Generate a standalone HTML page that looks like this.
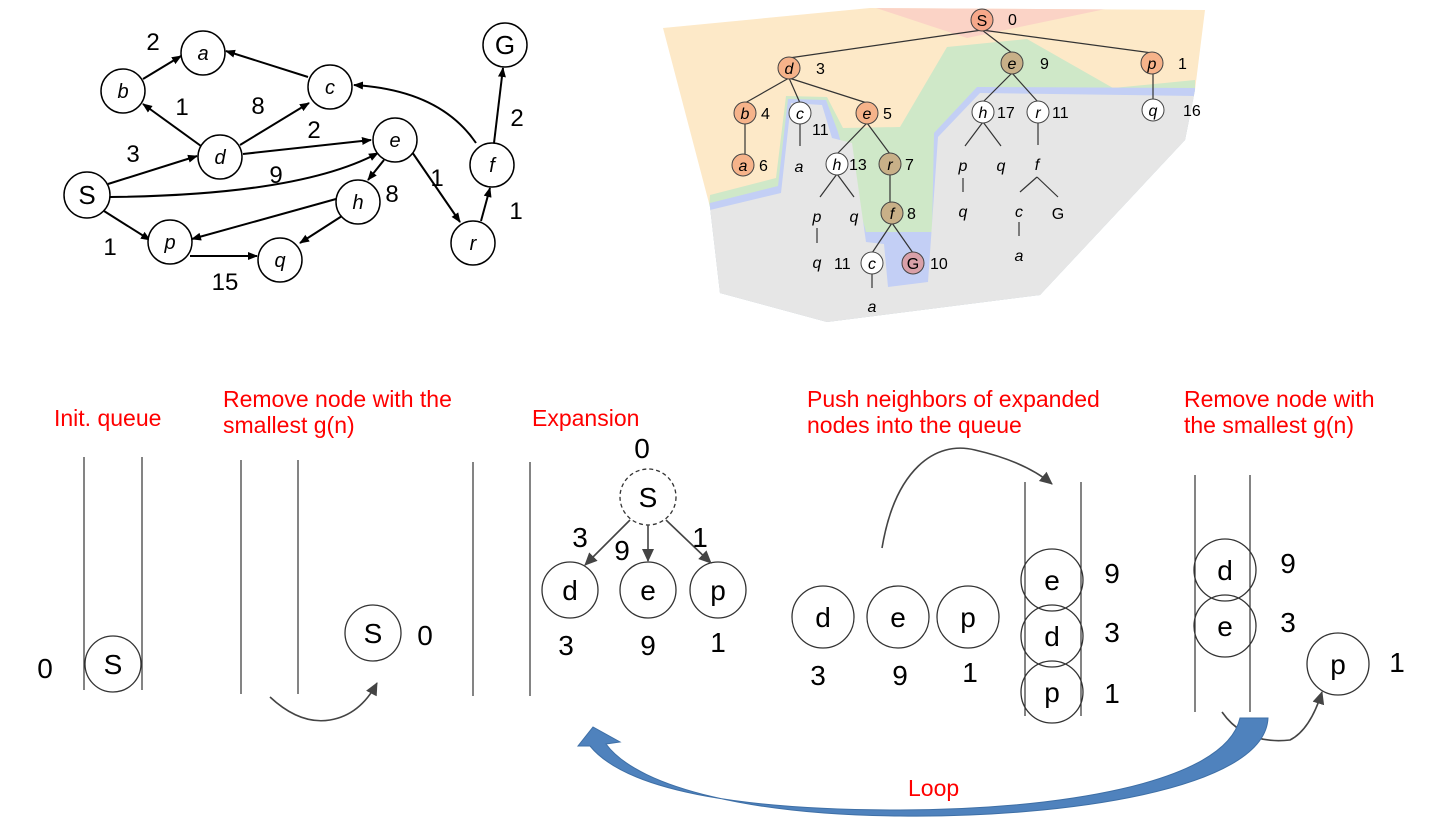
<!DOCTYPE html>
<html><head><meta charset="utf-8"><style>
html,body{margin:0;padding:0;background:#fff;}
svg{display:block;}
.g text{font-family:"Liberation Sans",sans-serif;}
.it{font-style:italic;}
.red{fill:#ff0000;font-family:"Liberation Sans",sans-serif;font-size:23px;}
</style></head><body>
<svg width="1439" height="825" viewBox="0 0 1439 825" xmlns="http://www.w3.org/2000/svg" class="g">
<defs>
<marker id="ah" markerWidth="10" markerHeight="10" refX="9" refY="5" orient="auto" markerUnits="userSpaceOnUse">
<path d="M0,1 L10,5 L0,9 z" fill="#000"/></marker>
<marker id="ah2" markerWidth="14" markerHeight="14" refX="12" refY="7" orient="auto" markerUnits="userSpaceOnUse">
<path d="M0,1 L13,7 L0,13 z" fill="#444"/></marker>
<clipPath id="outline"><polygon points="663,28 870,8 1205,10 1195,90 1185,140 1040,295 827,322 720,293 710,207"/></clipPath>
</defs>

<!-- ===== Top-left graph ===== -->
<g stroke="#000" stroke-width="2" fill="none">
<line x1="143" y1="79" x2="181" y2="56" marker-end="url(#ah)"/>
<line x1="308" y1="77" x2="226" y2="51" marker-end="url(#ah)"/>
<line x1="201" y1="146" x2="143" y2="104" marker-end="url(#ah)"/>
<line x1="240" y1="145" x2="309" y2="103" marker-end="url(#ah)"/>
<line x1="243" y1="154" x2="371" y2="140" marker-end="url(#ah)"/>
<line x1="108" y1="184" x2="197" y2="156" marker-end="url(#ah)"/>
<path d="M110,197 Q300,195 378,153" marker-end="url(#ah)"/>
<line x1="104" y1="211" x2="150" y2="240" marker-end="url(#ah)"/>
<line x1="384" y1="160" x2="368" y2="180" marker-end="url(#ah)"/>
<line x1="336" y1="199" x2="192" y2="239" marker-end="url(#ah)"/>
<line x1="342" y1="216" x2="300" y2="243" marker-end="url(#ah)"/>
<line x1="190" y1="256" x2="257" y2="256" marker-end="url(#ah)"/>
<line x1="412" y1="152" x2="460" y2="222" marker-end="url(#ah)"/>
<line x1="481" y1="221" x2="490" y2="188" marker-end="url(#ah)"/>
<path d="M476,143 Q440,90 354,85" marker-end="url(#ah)"/>
<line x1="494" y1="143" x2="503" y2="68" marker-end="url(#ah)"/>
</g>
<g stroke="#000" stroke-width="1.5" fill="#fff">
<circle cx="203" cy="53" r="22"/><circle cx="123" cy="91" r="22"/><circle cx="330" cy="87" r="22"/>
<circle cx="220" cy="157" r="22"/><circle cx="395" cy="140" r="22"/><circle cx="87" cy="195" r="23"/>
<circle cx="358" cy="202" r="22"/><circle cx="170" cy="242" r="22"/><circle cx="280" cy="260" r="22"/>
<circle cx="473" cy="243" r="22"/><circle cx="492" cy="165" r="22"/><circle cx="505" cy="45" r="22"/>
</g>
<g font-size="20" text-anchor="middle" class="it">
<text x="203" y="60">a</text><text x="123" y="98">b</text><text x="330" y="94">c</text>
<text x="220" y="164">d</text><text x="395" y="147">e</text><text x="358" y="209">h</text>
<text x="170" y="249">p</text><text x="280" y="267">q</text><text x="473" y="250">r</text><text x="492" y="172">f</text>
</g>
<g font-size="26" text-anchor="middle">
<text x="87" y="204">S</text><text x="505" y="54">G</text>
</g>
<g font-size="24" text-anchor="middle">
<text x="153" y="50">2</text><text x="182" y="115">1</text><text x="258" y="114">8</text>
<text x="314" y="138">2</text><text x="133" y="162">3</text><text x="276" y="183">9</text>
<text x="392" y="202">8</text><text x="437" y="186">1</text><text x="110" y="255">1</text>
<text x="225" y="290">15</text><text x="517" y="126">2</text><text x="516" y="219">1</text>
</g>

<!-- ===== Top-right tree ===== -->
<g clip-path="url(#outline)">
<rect x="650" y="0" width="560" height="330" fill="#fde9c8"/>
<polygon points="870,6 1120,6 967,38" fill="#fbd3c6"/>
<polygon points="710,195 776,178 786,96 827,97 843,128 900,127 947,47 1027,39 1113,88 1195,80 1195,330 700,330" fill="#cfe8c8"/>
<polygon points="710,203 778,186 788,99 826,100 838,132 866,232 932,232 934,133 977,87 1195,88 1195,330 700,330" fill="#c3cff5"/>
<polygon points="710,210 781,193 791,103 822,105 832,138 852,143 866,242 884,244 888,287 928,282 938,137 980,93 1195,96 1195,330 700,330" fill="#e6e6e6"/>
</g>
<g stroke="#333" stroke-width="1.2" fill="none">
<line x1="982" y1="30" x2="789" y2="58"/><line x1="982" y1="30" x2="1012" y2="53"/><line x1="982" y1="30" x2="1152" y2="53"/>
<line x1="789" y1="78" x2="745" y2="103"/><line x1="789" y1="78" x2="800" y2="103"/><line x1="789" y1="78" x2="867" y2="103"/>
<line x1="745" y1="123" x2="745" y2="155"/><line x1="800" y1="123" x2="800" y2="146"/>
<line x1="867" y1="123" x2="837" y2="154"/><line x1="867" y1="123" x2="890" y2="154"/>
<line x1="1012" y1="73" x2="983" y2="102"/><line x1="1012" y1="73" x2="1038" y2="102"/>
<line x1="1153" y1="73" x2="1153" y2="100"/>
<line x1="983" y1="122" x2="965" y2="146"/><line x1="983" y1="122" x2="1001" y2="146"/>
<line x1="1038" y1="122" x2="1038" y2="145"/>
<line x1="837" y1="174" x2="820" y2="197"/><line x1="837" y1="174" x2="854" y2="197"/>
<line x1="890" y1="174" x2="890" y2="203"/>
<line x1="892" y1="223" x2="872" y2="253"/><line x1="892" y1="223" x2="913" y2="253"/>
<line x1="817" y1="228" x2="817" y2="243"/><line x1="963" y1="178" x2="963" y2="192"/>
<line x1="1037" y1="177" x2="1020" y2="192"/><line x1="1037" y1="177" x2="1058" y2="197"/>
<line x1="1019" y1="222" x2="1019" y2="236"/><line x1="872" y1="273" x2="872" y2="288"/>
</g>
<g stroke="#444" stroke-width="1">
<circle cx="982" cy="20" r="11" fill="#f6a88a"/>
<circle cx="789" cy="68" r="11" fill="#f6b38a"/><circle cx="1012" cy="63" r="11" fill="#c8b088"/><circle cx="1152" cy="63" r="11" fill="#f6b38a"/>
<circle cx="745" cy="113" r="11" fill="#f6b38a"/><circle cx="800" cy="113" r="11" fill="#fff"/><circle cx="867" cy="113" r="11" fill="#f6b38a"/>
<circle cx="983" cy="112" r="11" fill="#fff"/><circle cx="1038" cy="112" r="11" fill="#fff"/><circle cx="1153" cy="110" r="11" fill="#fff"/>
<circle cx="743" cy="165" r="11" fill="#f6b38a"/><circle cx="837" cy="164" r="11" fill="#fff"/><circle cx="890" cy="164" r="11" fill="#c8b088"/>
<circle cx="892" cy="213" r="11" fill="#c8b088"/><circle cx="872" cy="263" r="11" fill="#fff"/><circle cx="913" cy="263" r="11" fill="#d9a0a8"/>
</g>
<g font-size="16" text-anchor="middle">
<text x="982" y="26">S</text><text x="913" y="269">G</text><text x="1058" y="219">G</text>
</g>
<g font-size="16" text-anchor="middle" class="it">
<text x="789" y="74">d</text><text x="1012" y="69">e</text><text x="1152" y="69">p</text>
<text x="745" y="119">b</text><text x="800" y="119">c</text><text x="867" y="119">e</text>
<text x="983" y="118">h</text><text x="1038" y="118">r</text><text x="1153" y="116">q</text>
<text x="743" y="171">a</text><text x="799" y="172">a</text><text x="837" y="170">h</text><text x="890" y="170">r</text>
<text x="963" y="171">p</text><text x="1001" y="171">q</text><text x="1037" y="170">f</text>
<text x="817" y="222">p</text><text x="854" y="222">q</text><text x="892" y="219">f</text>
<text x="963" y="217">q</text><text x="1019" y="217">c</text>
<text x="817" y="268">q</text><text x="872" y="269">c</text><text x="1019" y="261">a</text><text x="872" y="312">a</text>
</g>
<g font-size="16" text-anchor="start">
<text x="1008" y="25">0</text><text x="816" y="74">3</text><text x="1040" y="69">9</text><text x="1178" y="69">1</text>
<text x="761" y="119">4</text><text x="812" y="135">11</text><text x="883" y="119">5</text>
<text x="997" y="118">17</text><text x="1052" y="118">11</text><text x="1183" y="116">16</text>
<text x="759" y="171">6</text><text x="849" y="170">13</text><text x="905" y="170">7</text><text x="907" y="219">8</text>
<text x="834" y="269">11</text><text x="930" y="269">10</text>
</g>

<!-- ===== Bottom ===== -->
<text class="red" x="54" y="426">Init. queue</text>
<text class="red" x="223" y="407">Remove node with the</text>
<text class="red" x="223" y="433">smallest g(n)</text>
<text class="red" x="532" y="426">Expansion</text>
<text class="red" x="807" y="407">Push neighbors of expanded</text>
<text class="red" x="807" y="433">nodes into the queue</text>
<text class="red" x="1184" y="407">Remove node with</text>
<text class="red" x="1184" y="433">the smallest g(n)</text>
<text class="red" x="908" y="796">Loop</text>

<g stroke="#333" stroke-width="1.2">
<line x1="84" y1="457" x2="84" y2="690"/><line x1="142" y1="457" x2="142" y2="690"/>
<line x1="241" y1="460" x2="241" y2="694"/><line x1="298" y1="460" x2="298" y2="694"/>
<line x1="473" y1="462" x2="473" y2="696"/><line x1="530" y1="462" x2="530" y2="696"/>
<line x1="1025" y1="482" x2="1025" y2="716"/><line x1="1081" y1="482" x2="1081" y2="716"/>
<line x1="1195" y1="475" x2="1195" y2="712"/><line x1="1250" y1="475" x2="1250" y2="712"/>
</g>
<g stroke="#333" stroke-width="1.3" fill="none">
<circle cx="113" cy="664" r="28"/><circle cx="373" cy="633" r="28"/>
<circle cx="648" cy="497" r="28" stroke-dasharray="4,3"/>
<circle cx="570" cy="590" r="28"/><circle cx="648" cy="590" r="28"/><circle cx="718" cy="590" r="28"/>
<circle cx="823" cy="617" r="31"/><circle cx="898" cy="617" r="31"/><circle cx="968" cy="617" r="31"/>
<circle cx="1052" cy="580" r="31"/><circle cx="1052" cy="636" r="31"/><circle cx="1052" cy="692" r="31"/>
<circle cx="1225" cy="570" r="31"/><circle cx="1225" cy="626" r="31"/><circle cx="1338" cy="664" r="31"/>
</g>
<g stroke="#444" stroke-width="1.6" fill="none">
<line x1="630" y1="520" x2="585" y2="565" marker-end="url(#ah2)"/>
<line x1="648" y1="525" x2="648" y2="561" marker-end="url(#ah2)"/>
<line x1="666" y1="520" x2="711" y2="563" marker-end="url(#ah2)"/>
<path d="M270,697 Q300,725 330,720 Q360,715 377,683" marker-end="url(#ah2)"/>
<path d="M882,548 C895,470 935,440 975,450 C1010,458 1035,470 1052,484" marker-end="url(#ah2)"/>
<path d="M1222,712 Q1245,745 1290,740 Q1310,730 1322,692" marker-end="url(#ah2)"/>
</g>
<g font-size="28" text-anchor="middle" font-family="Liberation Sans">
<text x="45" y="678">0</text><text x="113" y="674">S</text>
<text x="373" y="643">S</text><text x="425" y="645">0</text>
<text x="642" y="458">0</text><text x="648" y="507">S</text>
<text x="570" y="600">d</text><text x="648" y="600">e</text><text x="718" y="600">p</text>
<text x="566" y="655">3</text><text x="648" y="655">9</text><text x="718" y="652">1</text>
<text x="580" y="547">3</text><text x="622" y="560">9</text><text x="700" y="547">1</text>
<text x="823" y="627">d</text><text x="898" y="627">e</text><text x="968" y="627">p</text>
<text x="818" y="685">3</text><text x="900" y="685">9</text><text x="970" y="682">1</text>
<text x="1052" y="590">e</text><text x="1052" y="646">d</text><text x="1052" y="702">p</text>
<text x="1112" y="583">9</text><text x="1112" y="642">3</text><text x="1112" y="703">1</text>
<text x="1225" y="580">d</text><text x="1225" y="636">e</text>
<text x="1288" y="573">9</text><text x="1288" y="632">3</text>
<text x="1338" y="674">p</text><text x="1397" y="672">1</text>
</g>

<!-- big blue loop arrow -->
<path d="M1240,718 L1268,718 C1265,790 1060,818 900,816 C760,815 640,790 606,744 L620,742 L593,727 L578,746 L590,746 C630,795 760,810 900,810 C1050,810 1225,785 1240,718 Z" fill="#4f82bd" stroke="#3e6fa6" stroke-width="1"/>
</svg>
</body></html>
